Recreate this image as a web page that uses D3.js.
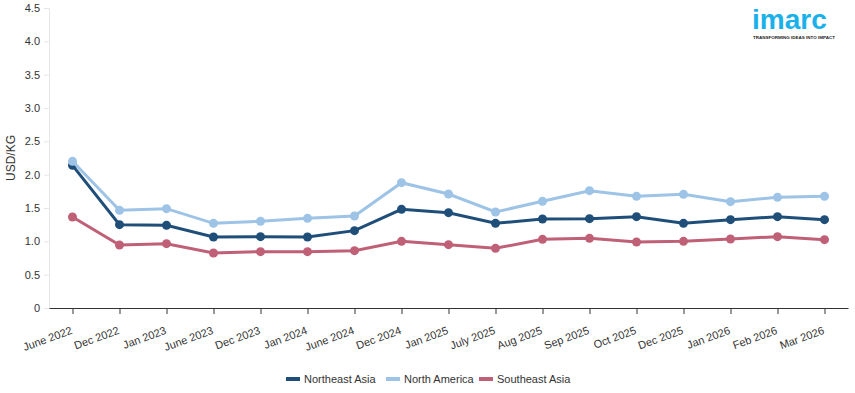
<!DOCTYPE html>
<html><head><meta charset="utf-8">
<script src="https://cdn.jsdelivr.net/npm/d3@7"></script>
<style>body{margin:0;background:#fff}svg{display:block;font-family:"Liberation Sans",Arial,sans-serif}</style>
</head><body><svg id="c" width="855" height="393"></svg>
<script>
const categories = ["June 2022","Dec 2022","Jan 2023","June 2023","Dec 2023","Jan 2024","June 2024","Dec 2024","Jan 2025","July 2025","Aug 2025","Sep 2025","Oct 2025","Dec 2025","Jan 2026","Feb 2026","Mar 2026"];
const northeastAsia = [2.14,1.25,1.24,1.065,1.07,1.065,1.16,1.48,1.43,1.27,1.335,1.34,1.37,1.27,1.325,1.37,1.325];
const northAmerica = [2.2,1.465,1.49,1.27,1.3,1.345,1.38,1.88,1.71,1.44,1.6,1.76,1.675,1.705,1.595,1.66,1.675];
const southeastAsia = [1.365,0.945,0.965,0.825,0.845,0.845,0.86,1.0,0.95,0.895,1.03,1.045,0.99,1.0,1.035,1.07,1.025];
const yTicks = [0,0.5,1.0,1.5,2.0,2.5,3.0,3.5,4.0,4.5];
const seriesNames = ["Northeast Asia","North America","Southeast Asia"];
const colors = ["#1f4e79","#9dc3e6","#bf6077"];
const series = [northeastAsia, northAmerica, southeastAsia];

const svg = d3.select("#c");
const L = 49, R = 848, T = 8, B = 308;
const x = d3.scalePoint().domain(categories).range([L, R]).padding(0.5);
const y = d3.scaleLinear().domain([0, 4.5]).range([B, T]);

// y axis
const ya = svg.append("g").attr("transform", `translate(${L},0)`)
  .call(d3.axisLeft(y).tickValues(yTicks).tickSize(5).tickPadding(4)
    .tickFormat(d => d === 0 ? "0" : d3.format(".1f")(d)));
ya.select(".domain").attr("stroke", "#e6e6e6");
ya.selectAll(".tick line").attr("stroke", "#e6e6e6");
ya.selectAll("text").attr("font-size", 11).attr("fill", "#333").attr("font-family", "Liberation Sans, Arial, sans-serif");

// x axis
const xa = svg.append("g").attr("transform", `translate(0,${B})`)
  .call(d3.axisBottom(x).tickSize(6).tickSizeOuter(0));
xa.select(".domain").attr("stroke", "#333");
xa.selectAll(".tick line").attr("stroke", "#333");
xa.selectAll("text").attr("font-size", 11).attr("fill", "#333")
  .attr("font-family", "Liberation Sans, Arial, sans-serif")
  .attr("text-anchor", "end").attr("dy", null)
  .attr("transform", "translate(-3,17) rotate(-20)");

// y title
svg.append("text").attr("transform", `translate(15,158) rotate(-90)`)
  .attr("text-anchor", "middle").attr("font-size", 12).attr("fill", "#333").text("USD/KG");

// lines
const line = d3.line().x((d, i) => x(categories[i])).y(d => y(d));
series.forEach((s, k) => {
  const g = svg.append("g");
  g.append("path").datum(s).attr("d", line).attr("fill", "none")
    .attr("stroke", colors[k]).attr("stroke-width", 3);
  g.selectAll("circle").data(s).join("circle")
    .attr("cx", (d, i) => x(categories[i])).attr("cy", d => y(d))
    .attr("r", 4.5).attr("fill", colors[k]);
});

// legend
const legend = svg.append("g").attr("transform", "translate(0,379)");
const items = [[286, 0], [386, 1], [479, 2]];
items.forEach(([lx, k]) => {
  legend.append("rect").attr("x", lx).attr("y", -2).attr("width", 14).attr("height", 4).attr("fill", colors[k]);
  legend.append("text").attr("x", lx + 18).attr("y", 4).attr("font-size", 11).attr("fill", "#333").text(seriesNames[k]);
});

// logo
const logo = svg.append("g");
logo.append("text").attr("x", 752).attr("y", 29).attr("font-size", 28).attr("font-weight", "bold")
  .attr("fill", "#1ab1ea").attr("font-family", "Liberation Sans, Arial, sans-serif")
  .attr("letter-spacing", 0).text("imarc");
logo.append("text").attr("x", 753).attr("y", 39).attr("font-size", 4.2).attr("font-weight", "bold")
  .attr("textLength", 82).attr("lengthAdjust", "spacingAndGlyphs")
  .attr("fill", "#222").text("TRANSFORMING IDEAS INTO IMPACT");
</script></body></html>
